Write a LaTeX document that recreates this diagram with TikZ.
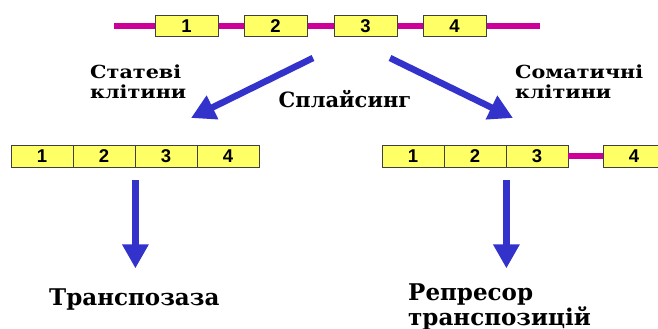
\documentclass[tikz,border=0pt]{standalone}
\usepackage{fontspec}
\setmainfont{DejaVu Serif}
\newfontfamily\widefont{DejaVu Serif}[FakeStretch=1.15]
\newfontfamily\numfont{Liberation Sans}
\usetikzlibrary{arrows.meta}
\definecolor{exonyellow}{HTML}{FFFF66}
\definecolor{intronpink}{HTML}{CC0099}
\definecolor{arrowblue}{HTML}{3333CC}

\begin{document}
\begin{tikzpicture}[x=1pt,y=-1pt,
  exon/.style={draw=black!75,fill=exonyellow,line width=.8pt,inner sep=0pt,
    minimum width=63pt,minimum height=21pt,font=\numfont\bfseries\fontsize{18.5}{18.5}\selectfont},
  rowexon/.style={exon,minimum width=62pt,minimum height=22pt},
  intron/.style={draw=intronpink,line width=6.5pt},
  flow/.style={draw=arrowblue,line width=6.5pt,-{Triangle[width=25pt,length=24pt]}},
  lbl/.style={inner sep=0pt,align=left,font=\widefont\bfseries\fontsize{18}{20}\selectfont}]
  \useasboundingbox (0,0) rectangle (658,329);
  \clip (0,0) rectangle (658,329);

  \coordinate (gstart) at (114,26);
  \coordinate (gend) at (540,26);
  \draw[intron] (gstart) -- (gend);
  \node[exon] (g1) at (186.5,26) {1};
  \node[exon] (g2) at (275.5,26) {2};
  \node[exon] (g3) at (365.5,26) {3};
  \node[exon] (g4) at (454.5,26) {4};

  \node[rowexon] (l1) at (42,156) {1};
  \node[rowexon] (l2) at (104,156) {2};
  \node[rowexon] (l3) at (166,156) {3};
  \node[rowexon] (l4) at (228,156) {4};

  \node[rowexon] (r1) at (413,156) {1};
  \node[rowexon] (r2) at (475,156) {2};
  \node[rowexon] (r3) at (537,156) {3};
  \node[rowexon] (r4) at (634,156) {4};
  \draw[intron] (r3.east) -- (r4.west);

  \coordinate (sl) at (313,58);
  \coordinate (sr) at (390,58);
  \coordinate (tl) at (191,118);
  \coordinate (tr) at (513,118);
  \draw[flow] (sl) -- (tl);
  \draw[flow] (sr) -- (tr);

  \node[lbl,anchor=base west] (germ) at (90,98) {Статеві\\клітини};
  \node[lbl,anchor=base west] (soma) at (515,98) {Соматичні\\клітини};
  \node[lbl,anchor=base,font=\bfseries\fontsize{21}{21}\selectfont] (splice) at (345,107) {Сплайсинг};

  \node[lbl,anchor=base west,font=\bfseries\fontsize{23}{23}\selectfont] (transp) at (49,305) {Транспозаза};
  \node[lbl,anchor=base west,font=\bfseries\fontsize{23}{22}\selectfont] (repr) at (408,325) {Репресор\\транспозицій};

  \draw[flow] ([yshift=-13pt]l2.south east) -- ++(0,88);
  \draw[flow] ([yshift=-13pt]r2.south east) -- ++(0,88);
\end{tikzpicture}
\end{document}
